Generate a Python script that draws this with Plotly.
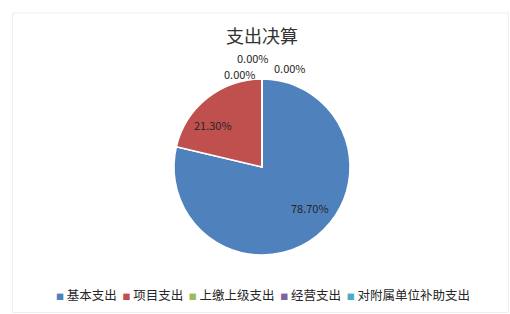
import plotly.graph_objects as go

categories = ["基本支出", "项目支出", "上缴上级支出", "经营支出", "对附属单位补助支出"]
values = [78.70, 21.30, 0.0, 0.0, 0.0]
colors = ["#4F81BD", "#C0504D", "#9BBB59", "#8064A2", "#4BACC6"]

W, H = 510, 314
cx, cy, r = 262, 167, 88
FONT = "Noto Sans CJK SC"

total = sum(values)
pct_text = [f"{v / total * 100:.2f}%" for v in values]

# label anchor positions (pixels) for each slice's percentage text
label_pos = [(310, 208), (213, 125), (240, 74), (253, 58), (290, 68)]

fig = go.Figure(go.Pie(
    labels=categories,
    values=values,
    sort=False,
    direction="clockwise",
    rotation=0,
    marker=dict(colors=colors, line=dict(color="white", width=1.5)),
    textinfo="none",
    hoverinfo="label+percent",
    showlegend=False,
    domain=dict(x=[(cx - r) / W, (cx + r) / W], y=[(H - cy - r) / H, (H - cy + r) / H]),
))

annotations = []
for t, (px, py) in zip(pct_text, label_pos):
    annotations.append(dict(
        text=t, x=px / W, y=1 - py / H, xref="paper", yref="paper",
        xanchor="center", yanchor="middle", showarrow=False,
        font=dict(family=FONT, size=11, color="#262626"),
    ))

legend_html = "&nbsp;&nbsp;".join(
    f"<span style='color:{c};font-size:8px'>■</span>&nbsp;{name}" for name, c in zip(categories, colors)
)
annotations.append(dict(
    text=legend_html, x=263 / W, y=1 - 294 / H, xref="paper", yref="paper",
    xanchor="center", yanchor="middle", showarrow=False,
    font=dict(family=FONT, size=12.5, color="#262626"),
))

fig.update_layout(
    width=W, height=H,
    margin=dict(l=0, r=0, t=0, b=0),
    paper_bgcolor="white",
    title=dict(text="支出决算", x=262 / W, xanchor="center", y=1 - 37 / H, yanchor="middle",
               font=dict(family=FONT, size=18, color="#333333")),
    annotations=annotations,
    shapes=[dict(type="rect", xref="paper", yref="paper", x0=12.5 / W, x1=508.5 / W,
                 y0=1 - 312.5 / H, y1=1 - 13 / H,
                 line=dict(color="#eeeeee", width=1))],
)

fig.write_html("out.html")
